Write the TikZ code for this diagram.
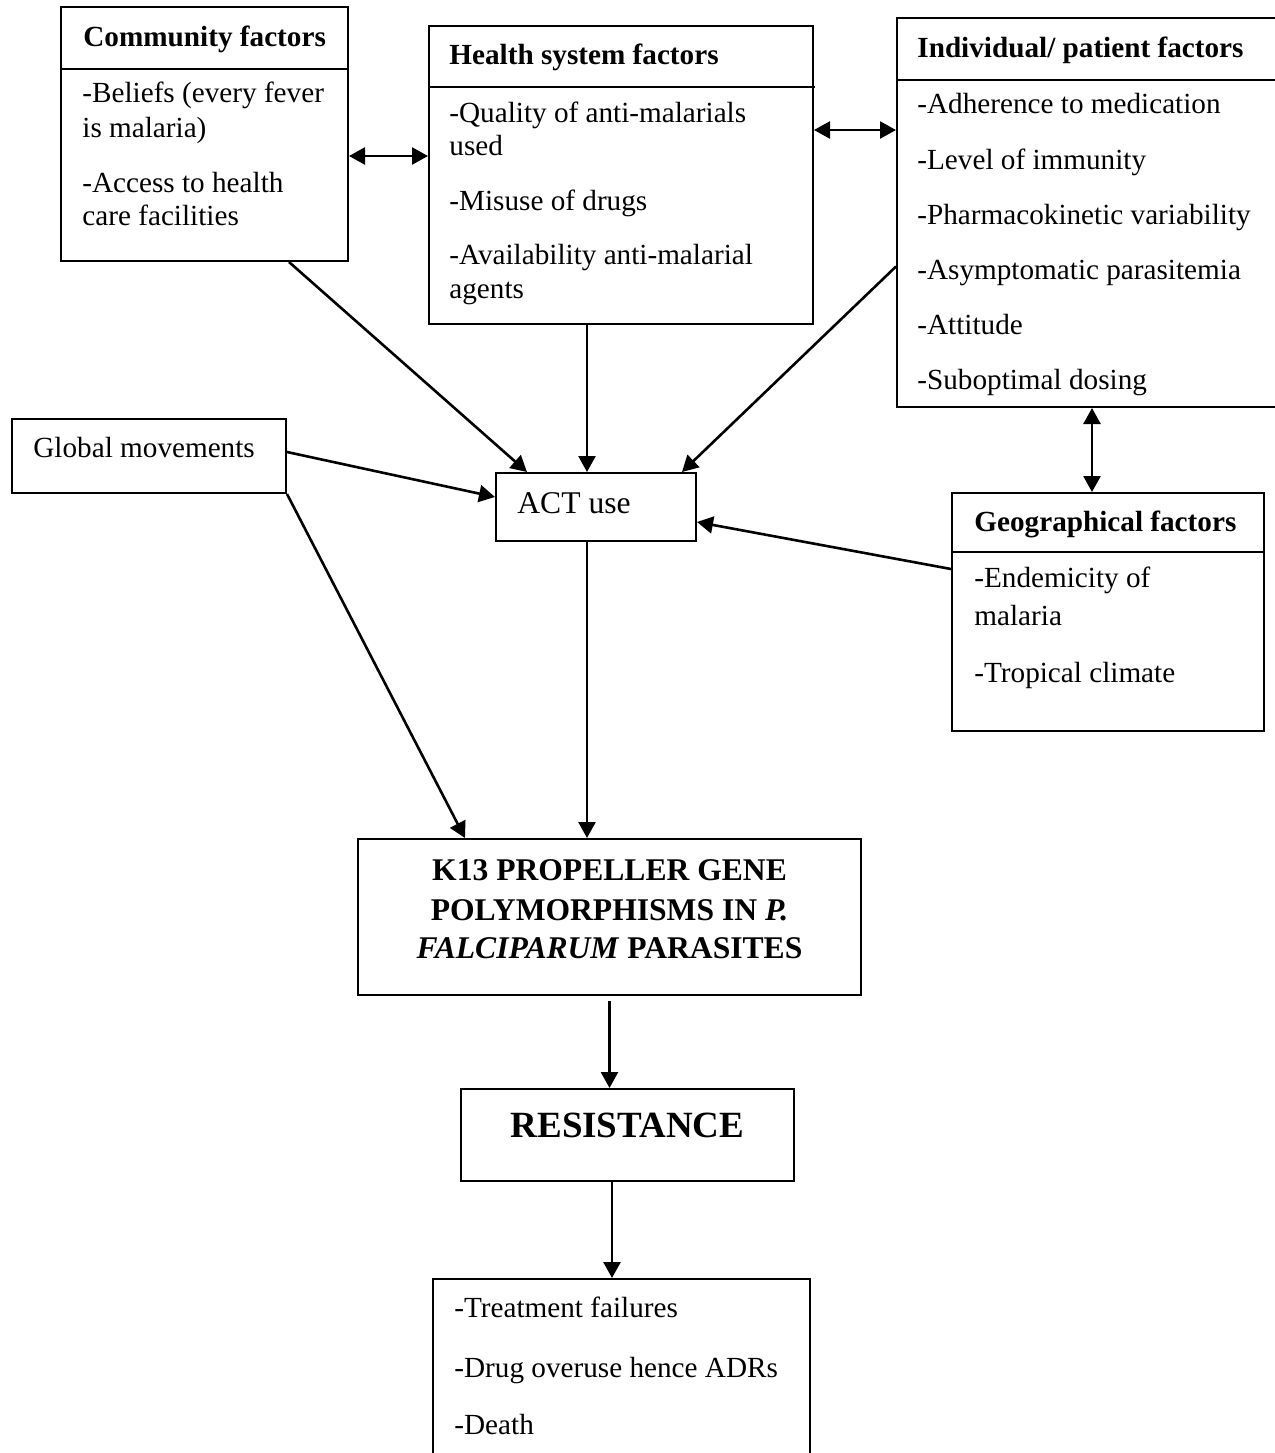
\documentclass[tikz,border=0pt]{standalone}
\usepackage{fontspec}
\setmainfont{Liberation Serif}
\usetikzlibrary{arrows.meta,fit}

\begin{document}
\begin{tikzpicture}[x=0.5pt, y=-0.5pt,
    box/.style={draw, line width=1pt, inner sep=0pt},
    txt/.style={anchor=base west, inner sep=0pt, font=\fontsize{14.6}{17}\selectfont},
    head/.style={txt, font=\fontsize{14.6}{17}\selectfont\bfseries},
    big/.style={anchor=base, inner sep=0pt, font=\fontsize{15.8}{19}\selectfont\bfseries},
    conn/.style={line width=1.3pt, -{Triangle[length=8pt,width=8.5pt]}},
    both/.style={line width=1.3pt, {Triangle[length=8pt,width=8.5pt]}-{Triangle[length=8pt,width=8.5pt]}}]

    % Page frame
    \useasboundingbox (0,0) rectangle (1275,1453);
    \clip (0,0) rectangle (1275,1453);

    % Draw boxes
    \node[box, fit={(61,7) (348,261)}] (comm) {};
    \node[box, fit={(429,26) (813,324)}] (health) {};
    \node[box, fit={(897,18) (1287,407)}] (indiv) {};
    \node[box, fit={(12,419) (286,493)}] (glob) {};
    \node[box, fit={(496,473) (696,541)}] (act) {};
    \node[box, fit={(952,493) (1264,731)}] (geo) {};
    \node[box, fit={(358,839) (861,995)}] (kgene) {};
    \node[box, fit={(461,1089) (794,1181)}] (resist) {};
    \node[box, fit={(433,1279) (810,1480)}] (outcome) {};

    % Draw header lines
    \draw[line width=1pt] (61,69) -- (348,69);
    \draw[line width=1pt] (429,87) -- (815,87);
    \draw[line width=1pt] (897,80) -- (1287,80);
    \draw[line width=1pt] (952,552) -- (1264,552);

    % Labels
    \node[head] (comm-t) at (83,46) {Community factors};
    \node[txt] (comm-1) at (82,102) {-Beliefs (every fever};
    \node[txt] (comm-2) at (82,137) {is malaria)};
    \node[txt] (comm-3) at (82,192) {-Access to health};
    \node[txt] (comm-4) at (82,225) {care facilities};

    \node[head] (health-t) at (449,64) {Health system factors};
    \node[txt] (health-1) at (449,122) {-Quality of anti-malarials};
    \node[txt] (health-2) at (449,155) {used};
    \node[txt] (health-3) at (449,210) {-Misuse of drugs};
    \node[txt] (health-4) at (449,264) {-Availability anti-malarial};
    \node[txt] (health-5) at (449,298) {agents};

    \node[head] (indiv-t) at (917,57) {Individual/ patient factors};
    \node[txt] (indiv-1) at (917,113) {-Adherence to medication};
    \node[txt] (indiv-2) at (917,169) {-Level of immunity};
    \node[txt] (indiv-3) at (917,224) {-Pharmacokinetic variability};
    \node[txt] (indiv-4) at (917,279) {-Asymptomatic parasitemia};
    \node[txt] (indiv-5) at (917,334) {-Attitude};
    \node[txt] (indiv-6) at (917,389) {-Suboptimal dosing};

    \node[txt] (glob-t) at (33,457) {Global movements};
    \node[txt, font=\fontsize{15.8}{19}\selectfont] (act-t) at (517,513) {ACT use};

    \node[head] (geo-t) at (974,531) {Geographical factors};
    \node[txt] (geo-1) at (974,587) {-Endemicity of};
    \node[txt] (geo-2) at (974,625) {malaria};
    \node[txt] (geo-3) at (974,682) {-Tropical climate};

    \node[big] (kgene-1) at (609.5,880) {K13 PROPELLER GENE};
    \node[big] (kgene-2) at (609.5,920) {POLYMORPHISMS IN \textit{P.}};
    \node[big] (kgene-3) at (609.5,958) {\textit{FALCIPARUM} PARASITES};

    \node[big, font=\fontsize{18.5}{22}\selectfont\bfseries] (resist-t) at (627.5,1137) {RESISTANCE};

    \node[txt] (outcome-1) at (454,1317) {-Treatment failures};
    \node[txt] (outcome-2) at (454,1377) {-Drug overuse hence ADRs};
    \node[txt] (outcome-3) at (454,1434) {-Death};

    % Two-way links between factor groups
    \draw[both] ([yshift=-11pt]comm.east) -- ([yshift=-11pt]comm.east -| health.west);
    \draw[both] ([yshift=22.5pt]health.east) -- ([yshift=22.5pt]health.east -| indiv.west);
    \draw[both] (indiv.south) -- (indiv.south |- geo.north);

    % Arrows into ACT use
    \draw[conn] ([xshift=-30pt]comm.south east) -- ([xshift=16pt]act.north west);
    \draw[conn] ([xshift=-17pt]health.south) -- ([xshift=-17pt]health.south |- act.north);
    \draw[conn] ([yshift=-27pt]indiv.west) -- ([xshift=-7.5pt]act.north east);
    \draw[conn] ([yshift=2pt]glob.east) -- ([yshift=5pt]act.west);
    \draw[conn] ([yshift=21.5pt]geo.west) -- ([yshift=-7.5pt]act.east);

    % Arrows down the chain
    \draw[conn] (glob.south east) -- ([xshift=54pt]kgene.north west);
    \draw[conn] ([xshift=-4.5pt]act.south) -- ([xshift=-4.5pt]act.south |- kgene.north);
    \draw[conn] ([yshift=-2.5pt]kgene.south) -- (kgene.south |- resist.north);
    \draw[conn] ([xshift=-7.75pt]resist.south) -- ([xshift=-7.75pt]resist.south |- outcome.north);
\end{tikzpicture}
\end{document}
